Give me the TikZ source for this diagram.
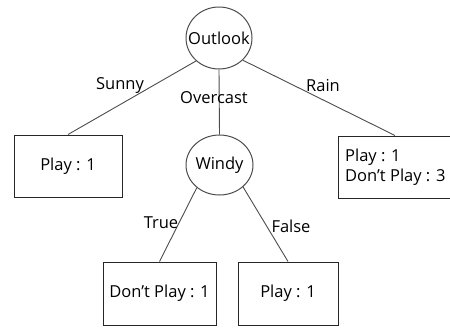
\documentclass[tikz,border=0pt]{standalone}
\usepackage{fontspec}
\setmainfont{Open Sans}
\usetikzlibrary{shapes.geometric}
\begin{document}
\begin{tikzpicture}[x=1pt,y=-1pt,
  attr/.style={ellipse,draw=black!70,line width=1pt,inner sep=0pt},
  leafbox/.style={rectangle,draw=black!85,line width=1pt,inner sep=0pt,font=\fontsize{16.5}{20}\selectfont},
  lbl/.style={inner sep=0pt,font=\fontsize{16.5}{20}\selectfont},
  edge/.style={draw=black!70,line width=0.9pt}]
\useasboundingbox (0,0) rectangle (450,327);
\clip (0,0) rectangle (450,327);
\node[attr,minimum width=66pt,minimum height=62pt] (outlook) at (219,38) {};
\node[lbl] (outlooktxt) at (outlook.center) {Outlook};
\node[attr,minimum width=67pt,minimum height=60pt] (windy) at (219.5,165) {};
\node[lbl] (windytxt) at (windy.center) {Windy};
\node[leafbox,minimum width=108pt,minimum height=62pt] (sunnyleaf) at (68,166) {Play : 1};
\node[leafbox,minimum width=114pt,minimum height=62pt] (rainleaf) at (395,167) {};
\node[lbl,anchor=west,align=left] (raintext) at (345,167) {Play : 1\\Don’t Play : 3};
\node[leafbox,minimum width=113pt,minimum height=63pt] (trueleaf) at (159.5,293.5) {Don’t Play : 1};
\node[leafbox,minimum width=100pt,minimum height=63pt] (falseleaf) at (288,293.5) {Play : 1};
\draw[edge] (outlook.225) -- (sunnyleaf.north);
\draw[edge] (outlook.south) -- (windy.north);
\draw[edge] (outlook.-43) -- (rainleaf.north);
\draw[edge] (windy.225) -- (trueleaf.north);
\draw[edge] (windy.-43) -- (falseleaf.north);
\node[lbl] (sunnylbl) at (120,86) {Sunny};
\node[lbl] (overcastlbl) at (214,98) {Overcast};
\node[lbl] (rainlbl) at (323,86) {Rain};
\node[lbl] (truelbl) at (161,223) {True};
\node[lbl] (falselbl) at (291,226) {False};
\end{tikzpicture}
\end{document}
